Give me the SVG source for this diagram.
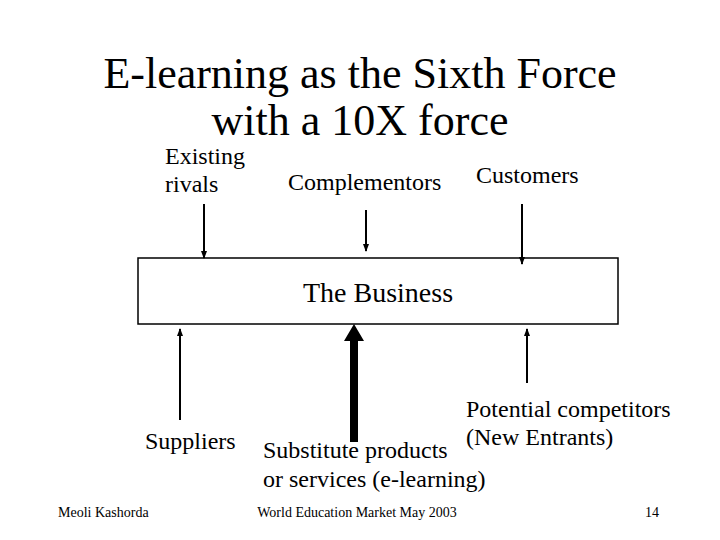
<svg xmlns="http://www.w3.org/2000/svg" width="720" height="540" viewBox="0 0 720 540">
<style>
text{font-family:"Liberation Serif","Times New Roman",serif;fill:#000}
.t{font-size:44px;text-anchor:middle}
.l{font-size:24px}
.f{font-size:14px}
.c line{stroke:#000;stroke-width:2}
</style>
<defs>
<marker id="ah" markerWidth="8" markerHeight="8" refX="7" refY="4" orient="auto" markerUnits="userSpaceOnUse">
<path d="M0,1 L8,4 L0,7 Z" fill="#000"/>
</marker>
</defs>
<rect width="720" height="540" fill="#fff"/>
<g id="title">
<text class="t" x="360" y="88">E-learning as the Sixth Force</text>
<text class="t" x="360" y="135">with a 10X force</text>
</g>
<g id="business">
<rect x="138" y="258" width="480" height="66" fill="#fff" stroke="#000" stroke-width="1.5"/>
<text x="378" y="302" style="font-size:28px;text-anchor:middle">The Business</text>
</g>
<g id="rivals"><text class="l" x="165" y="164">Existing</text><text class="l" x="165" y="192">rivals</text></g>
<g id="complementors"><text class="l" x="288" y="190">Complementors</text></g>
<g id="customers"><text class="l" x="476" y="183">Customers</text></g>
<g id="suppliers"><text class="l" x="145" y="449">Suppliers</text></g>
<g id="substitutes"><text class="l" x="263" y="458">Substitute products</text><text class="l" x="263" y="487">or services (e-learning)</text></g>
<g id="entrants"><text class="l" x="466" y="417">Potential competitors</text><text class="l" x="466" y="445">(New Entrants)</text></g>
<g class="c" id="connectors">
<line x1="204" y1="204" x2="204" y2="258" marker-end="url(#ah)"/>
<line x1="366" y1="210" x2="366" y2="251" marker-end="url(#ah)"/>
<line x1="522" y1="204" x2="522" y2="264" marker-end="url(#ah)"/>
<line x1="180" y1="420" x2="180" y2="329" marker-end="url(#ah)"/>
<line x1="527" y1="383" x2="527" y2="329" marker-end="url(#ah)"/>
<path d="M350,442 L350,341 L344,341 L354,324 L364,341 L358,341 L358,442 Z" fill="#000"/>
</g>
<g id="footer">
<text class="f" x="58" y="517">Meoli Kashorda</text>
<text class="f" x="357" y="517" text-anchor="middle">World Education Market May 2003</text>
<text class="f" x="645" y="517">14</text>
</g>
</svg>
